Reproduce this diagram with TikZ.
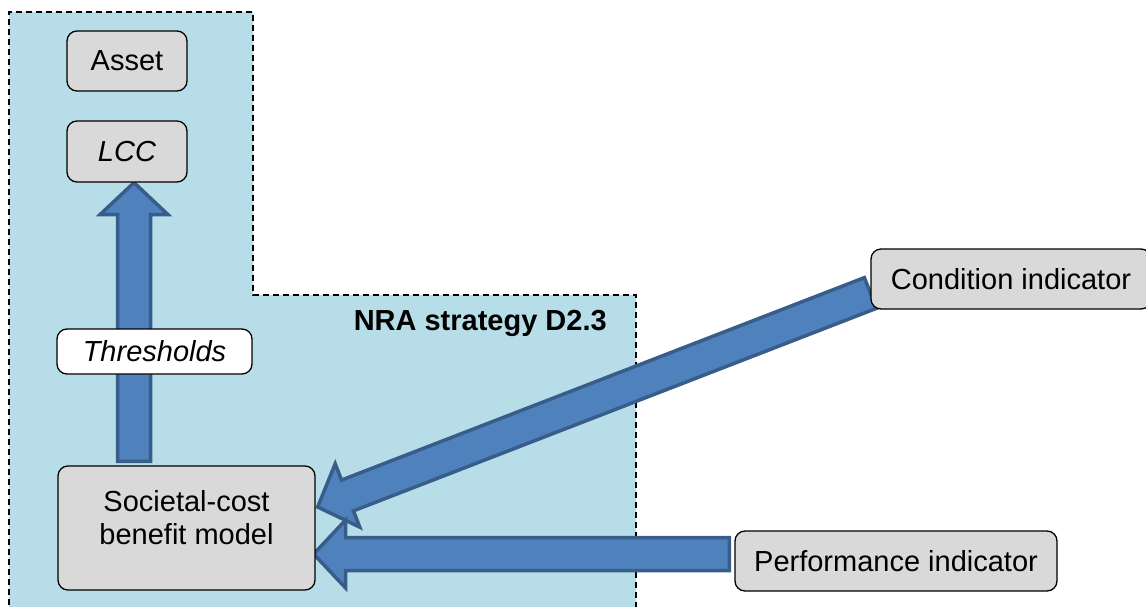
\documentclass[tikz,border=0pt]{standalone}
\usepackage{fontspec}
\setmainfont{Liberation Sans}
\usepackage{xcolor}
\usetikzlibrary{calc}
\definecolor{zoneblue}{HTML}{B7DEE8}
\definecolor{boxgrey}{HTML}{D9D9D9}
\definecolor{arrfill}{HTML}{4F81BD}
\definecolor{arrline}{HTML}{385D8A}
\pgfdeclarelayer{back}
\pgfdeclarelayer{mid}
\pgfsetlayers{back,mid,main}
\tikzset{
  zone/.style={fill=zoneblue, draw=black, dash pattern=on 6pt off 4pt, line width=1.4pt},
  box/.style={draw=black, fill=boxgrey, rounded corners=10pt, line width=1.3pt, inner sep=0pt,
    font=\fontsize{29}{33}\selectfont, align=center},
  wbox/.style={box, fill=white},
  txt/.style={font=\fontsize{29}{33}\selectfont, align=center, inner sep=0pt},
  lab/.style={font=\fontsize{29}{33}\selectfont\bfseries, inner sep=0pt},
  blk/.style={fill=arrfill, draw=arrline, line width=3.5pt, line join=miter},
}

\begin{document}
\begin{tikzpicture}[x=1pt,y=-1pt]
  \useasboundingbox (0,0) rectangle (1146,607);
  \def\sw{16.5pt}
  \def\hw{34pt}
  \def\hl{32pt}

  % zone
  \coordinate (zc) at (636,295);
  \begin{pgfonlayer}{back}
    \draw[zone] (9,625) -- (9,12) -- (253,12) -- (253,295) -- (zc) -- (636,625) -- cycle;
  \end{pgfonlayer}
  \node[lab, anchor=east] (nra) at ($(zc)+(-29,28)$) {NRA strategy D2.3};

  % boxes
  \node[box, minimum width=120pt, minimum height=60pt] (asset) at (127,61) {Asset};
  \node[box, minimum width=120pt, minimum height=61pt] (lcc) at (127,151.5) {\itshape LCC};
  \node[wbox, minimum width=195pt, minimum height=45pt] (thr) at (154.5,351.5) {\itshape Thresholds};
  \node[box, minimum width=257pt, minimum height=124pt] (soc) at (186.5,528) {};
  \node[txt] (soctxt) at ([yshift=10pt]soc.center) {Societal-cost\\benefit model};
  \node[box, minimum width=280pt, minimum height=60pt] (cond) at (1011,279) {Condition indicator};
  \node[box, minimum width=322pt, minimum height=60pt] (perf) at (896,561) {Performance indicator};

  % arrows
  \coordinate (up0) at ([xshift=-52.5pt,yshift=4pt]soc.north);
  \coordinate (up1) at ([xshift=7pt]lcc.south);
  \coordinate (c0) at ([yshift=-14pt]cond.west);
  \coordinate (c1) at ([xshift=2pt,yshift=21pt]soc.east);
  \coordinate (p0) at ([xshift=-5pt,yshift=7pt]perf.west);
  \coordinate (p1) at ([xshift=-2pt,yshift=-26pt]soc.east);
  \begin{pgfonlayer}{mid}
    \foreach \a/\b in {up0/up1, c0/c1, p0/p1}{
      \coordinate (h) at ($(\b)!\hl!(\a)$);
      \draw[blk] ($(\a)!\sw!90:(\b)$) -- ($(h)!\sw!90:(\b)$) -- ($(h)!\hw!90:(\b)$) -- (\b)
        -- ($(h)!\hw!-90:(\b)$) -- ($(h)!\sw!-90:(\b)$) -- ($(\a)!\sw!-90:(\b)$) -- cycle;
    }
  \end{pgfonlayer}
\end{tikzpicture}
\end{document}
